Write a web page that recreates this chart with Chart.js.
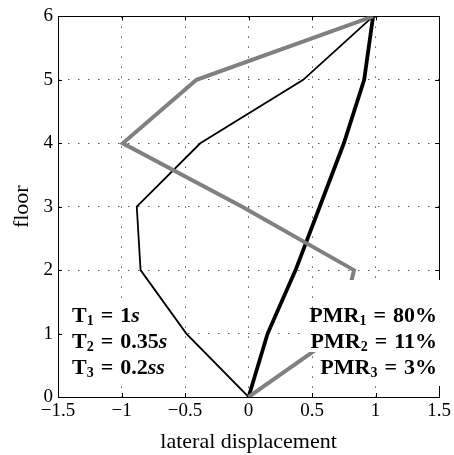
<!DOCTYPE html>
<html>
<head>
<meta charset="utf-8">
<script src="https://cdn.jsdelivr.net/npm/chart.js@4.4.0/dist/chart.umd.min.js"></script>
<style>
    html, body { margin: 0; padding: 0; background: #fff; }
    #wrap { width: 454px; height: 455px; }
</style>
</head>
<body>
<div id="wrap"><canvas id="modeChart" width="454" height="455"></canvas></div>
<script>
// mode shapes (floor -> lateral displacement)
const floors = [0, 1, 2, 3, 4, 5, 6];
const mode1 = [0, 0.15, 0.37, 0.56, 0.75, 0.91, 0.98];
const mode2 = [0, -0.49, -0.85, -0.88, -0.38, 0.43, 0.98];
const mode3 = [0, 0.71, 0.83, -0.05, -0.99, -0.41, 0.98];

const xTicks = [-1.5, -1, -0.5, 0, 0.5, 1, 1.5];
const yTicks = [0, 1, 2, 3, 4, 5, 6];

// annotation text
const periodIndex = ["1", "2", "3"];
const periodValues = ["1", "0.35", "0.2"];
const periodUnits = ["s", "s", "ss"];
const pmrValues = ["80%", "11%", "3%"];

const serif = "'Liberation Serif', 'Times New Roman', serif";

function toPoints(xs) {
    return xs.map((x, i) => ({ x: x, y: floors[i] }));
}

function minusSign(v) {
    return String(v).replace("-", "\u2212");
}

// white boxes behind the text blocks (left one sits under the curves,
// the right ones hide part of the grey curve like in the original)
const leftBox = [63, 300, 184, 383];
const rightBoxes = [
    [316, 280, 442, 323],
    [305, 323, 442, 352],
    [316, 352, 442, 386]
];

function fillBoxes(ctx, boxes) {
    ctx.save();
    ctx.fillStyle = "#fff";
    boxes.forEach(b => ctx.fillRect(b[0], b[1], b[2] - b[0], b[3] - b[1]));
    ctx.restore();
}

function drawRow(ctx, parts, x, baseline, align) {
    const fonts = {
        n: "bold 22px " + serif,
        it: "italic bold 22px " + serif,
        sub: "bold 14px " + serif
    };
    let width = 0;
    parts.forEach(p => {
        ctx.font = fonts[p.s];
        p.w = ctx.measureText(p.t).width + (p.gap || 0) * 2;
        width += p.w;
    });
    let cx = align === "right" ? x - width : x;
    ctx.fillStyle = "#000";
    ctx.textBaseline = "alphabetic";
    ctx.textAlign = "left";
    parts.forEach(p => {
        ctx.font = fonts[p.s];
        ctx.fillText(p.t, cx + (p.gap || 0), p.s === "sub" ? baseline + 3 : baseline);
        cx += p.w;
    });
}

const matlabFrame = {
    id: "matlabFrame",
    beforeDatasetsDraw(chart) {
        const { ctx, chartArea: a, scales } = chart;
        fillBoxes(ctx, [leftBox]);
        ctx.save();
        ctx.strokeStyle = "#000";
        ctx.lineWidth = 1;
        ctx.beginPath();
        xTicks.slice(1, -1).forEach(v => {
            const px = Math.round(scales.x.getPixelForValue(v)) + 0.5;
            ctx.moveTo(px, a.bottom); ctx.lineTo(px, a.bottom - 4);
            ctx.moveTo(px, a.top); ctx.lineTo(px, a.top + 4);
        });
        yTicks.slice(1, -1).forEach(v => {
            const py = Math.round(scales.y.getPixelForValue(v)) + 0.5;
            ctx.moveTo(a.left, py); ctx.lineTo(a.left + 4, py);
            ctx.moveTo(a.right, py); ctx.lineTo(a.right - 4, py);
        });
        ctx.stroke();
        ctx.strokeRect(Math.round(a.left) + 0.5, Math.round(a.top) + 0.5,
            Math.round(a.right - a.left), Math.round(a.bottom - a.top));
        ctx.restore();
    },
    afterDatasetsDraw(chart) {
        const ctx = chart.ctx;
        fillBoxes(ctx, rightBoxes);
        ctx.save();
        const baselines = [322, 348, 374];
        periodValues.forEach((v, i) => {
            drawRow(ctx, [
                { t: "T", s: "n" },
                { t: periodIndex[i], s: "sub" },
                { t: "=", s: "n", gap: 7 },
                { t: v, s: "n" },
                { t: periodUnits[i], s: "it" }
            ], 72, baselines[i], "left");
            drawRow(ctx, [
                { t: "PMR", s: "n" },
                { t: periodIndex[i], s: "sub" },
                { t: "=", s: "n", gap: 7 },
                { t: pmrValues[i], s: "n" }
            ], 437, baselines[i], "right");
        });
        ctx.restore();
    }
};

const gridStyle = { color: "#555", lineWidth: 1, drawTicks: false };

new Chart(document.getElementById("modeChart"), {
    type: "scatter",
    data: {
        datasets: [
            { label: "mode 3", data: toPoints(mode3), borderColor: "#808080", borderWidth: 4 },
            { label: "mode 2", data: toPoints(mode2), borderColor: "#000", borderWidth: 1.8 },
            { label: "mode 1", data: toPoints(mode1), borderColor: "#000", borderWidth: 3.8 }
        ].map(d => Object.assign(d, { showLine: true, pointRadius: 0, tension: 0, fill: false }))
    },
    options: {
        responsive: false,
        animation: false,
        devicePixelRatio: 1,
        layout: { padding: { top: 13, right: 11, left: 0, bottom: 0 } },
        plugins: { legend: { display: false }, tooltip: { enabled: false } },
        scales: {
            x: {
                type: "linear",
                min: -1.5,
                max: 1.5,
                afterBuildTicks: s => { s.ticks = xTicks.map(v => ({ value: v })); },
                afterFit: s => { s.height = 58; },
                grid: gridStyle,
                border: { display: false, dash: [1.5, 8.5] },
                ticks: {
                    color: "#000",
                    padding: 3,
                    maxRotation: 0,
                    autoSkip: false,
                    font: { family: serif, size: 19 },
                    callback: v => minusSign(v)
                },
                title: {
                    display: true,
                    text: "lateral displacement",
                    color: "#000",
                    font: { family: serif, size: 22 },
                    padding: { top: 0, bottom: 0 }
                }
            },
            y: {
                type: "linear",
                min: 0,
                max: 6,
                afterBuildTicks: s => { s.ticks = yTicks.map(v => ({ value: v })); },
                afterFit: s => { s.width = 58; },
                grid: gridStyle,
                border: { display: false, dash: [1.5, 8.5] },
                ticks: {
                    color: "#000",
                    padding: 5,
                    autoSkip: false,
                    font: { family: serif, size: 19 },
                    callback: v => minusSign(v)
                },
                title: {
                    display: true,
                    text: "floor",
                    color: "#000",
                    font: { family: serif, size: 22 },
                    padding: { top: 9, bottom: 0 }
                }
            }
        }
    },
    plugins: [matlabFrame]
});
</script>
</body>
</html>
